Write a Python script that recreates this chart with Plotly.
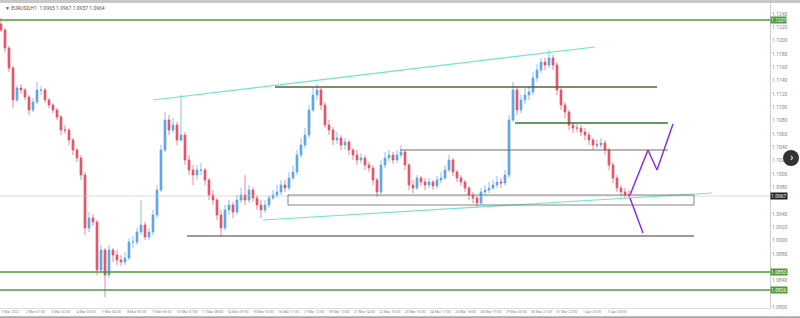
import plotly.graph_objects as go

# ---------------- data ----------------
first_open = 1.12250
close = [
1.12160, 1.11890, 1.11590, 1.11110, 1.11290, 1.11260, 1.11155, 1.10960, 1.11080, 1.11260,
1.11260, 1.11110, 1.11035, 1.10960, 1.10855, 1.10660, 1.10660, 1.10510, 1.10360, 1.10240,
1.09985, 1.09190, 1.09340, 1.09280, 1.08560, 1.08860, 1.08485, 1.08860, 1.08785, 1.08710,
1.08680, 1.08740, 1.08980, 1.08980, 1.09130, 1.09235, 1.09055, 1.09130, 1.09385, 1.09760,
1.10360, 1.10810, 1.10660, 1.10735, 1.10510, 1.10585, 1.10210, 1.10060, 1.09985, 1.10060,
1.10060, 1.09910, 1.09685, 1.09610, 1.09385, 1.09190, 1.09460, 1.09535, 1.09430, 1.09610,
1.09685, 1.09610, 1.09760, 1.09640, 1.09535, 1.09460, 1.09535, 1.09640, 1.09685, 1.09730,
1.09835, 1.09790, 1.09940, 1.10030, 1.10285, 1.10435, 1.10585, 1.10960, 1.11185, 1.11260,
1.11035, 1.10735, 1.10660, 1.10510, 1.10540, 1.10435, 1.10480, 1.10360, 1.10285, 1.10210,
1.10240, 1.10135, 1.10090, 1.09910, 1.09730, 1.10135, 1.10240, 1.10285, 1.10210, 1.10285,
1.10330, 1.10135, 1.09835, 1.09790, 1.09940, 1.09880, 1.09835, 1.09880, 1.09820, 1.09910,
1.09940, 1.10060, 1.10210, 1.10030, 1.09940, 1.09880, 1.09790, 1.09685, 1.09640, 1.09565,
1.09730, 1.09760, 1.09790, 1.09835, 1.09880, 1.09865, 1.09985, 1.10810, 1.11260, 1.10960,
1.11110, 1.11185, 1.11230, 1.11440, 1.11560, 1.11680, 1.11635, 1.11740, 1.11635, 1.11260,
1.11035, 1.10930, 1.10735, 1.10690, 1.10690, 1.10630, 1.10585, 1.10510, 1.10435, 1.10435,
1.10465, 1.10360, 1.10135, 1.09940, 1.09790, 1.09730, 1.09685, 1.09670]

high = [
1.12340, 1.12190, 1.11920, 1.11620, 1.11335, 1.11350, 1.11290, 1.11185, 1.11140, 1.11380,
1.11320, 1.11290, 1.11140, 1.11065, 1.10990, 1.10885, 1.10735, 1.10690, 1.10540, 1.10390,
1.10285, 1.10030, 1.09430, 1.09400, 1.09310, 1.08935, 1.08890, 1.08935, 1.08890, 1.08860,
1.08785, 1.08830, 1.09040, 1.09070, 1.09190, 1.09610, 1.09280, 1.09190, 1.09460, 1.09835,
1.10435, 1.10930, 1.10885, 1.10840, 1.10780, 1.11185, 1.10630, 1.10285, 1.10135, 1.10135,
1.10165, 1.10090, 1.09940, 1.09760, 1.09640, 1.09460, 1.09535, 1.09610, 1.09580, 1.09685,
1.09790, 1.09985, 1.09835, 1.09805, 1.09685, 1.09610, 1.09610, 1.09685, 1.09760, 1.09835,
1.09910, 1.09910, 1.10030, 1.10135, 1.10360, 1.10540, 1.10690, 1.11035, 1.11290, 1.11350,
1.11290, 1.11080, 1.10810, 1.10705, 1.10630, 1.10585, 1.10540, 1.10510, 1.10390, 1.10360,
1.10315, 1.10285, 1.10180, 1.10135, 1.09940, 1.10210, 1.10330, 1.10360, 1.10330, 1.10360,
1.10435, 1.10360, 1.10165, 1.09910, 1.09985, 1.09970, 1.09940, 1.09940, 1.09910, 1.09970,
1.10030, 1.10135, 1.10285, 1.10240, 1.10060, 1.09985, 1.09910, 1.09820, 1.09730, 1.09670,
1.09790, 1.09835, 1.09880, 1.09910, 1.09970, 1.09940, 1.10060, 1.10885, 1.11380, 1.11290,
1.11185, 1.11290, 1.11320, 1.11530, 1.11650, 1.11740, 1.11740, 1.11860, 1.11785, 1.11680,
1.11290, 1.11080, 1.10960, 1.10780, 1.10750, 1.10735, 1.10690, 1.10630, 1.10540, 1.10510,
1.10540, 1.10510, 1.10390, 1.10180, 1.09985, 1.09835, 1.09790, 1.09760]

low = [
1.12130, 1.11830, 1.11530, 1.10990, 1.11080, 1.11200, 1.11110, 1.10885, 1.10930, 1.11050,
1.11185, 1.11065, 1.10990, 1.10915, 1.10810, 1.10585, 1.10600, 1.10435, 1.10285, 1.10180,
1.09910, 1.09085, 1.09130, 1.09220, 1.08485, 1.08530, 1.08155, 1.08440, 1.08680, 1.08635,
1.08620, 1.08635, 1.08710, 1.08890, 1.08935, 1.09085, 1.09010, 1.09010, 1.09085, 1.09340,
1.09730, 1.10330, 1.10585, 1.10615, 1.10435, 1.10480, 1.10135, 1.09985, 1.09835, 1.09910,
1.09985, 1.09835, 1.09610, 1.09535, 1.09310, 1.09070, 1.09160, 1.09385, 1.09340, 1.09385,
1.09565, 1.09535, 1.09565, 1.09580, 1.09460, 1.09340, 1.09415, 1.09490, 1.09610, 1.09640,
1.09685, 1.09730, 1.09760, 1.09910, 1.09985, 1.10240, 1.10390, 1.10540, 1.10930, 1.11110,
1.10960, 1.10690, 1.10585, 1.10435, 1.10450, 1.10360, 1.10360, 1.10285, 1.10210, 1.10135,
1.10165, 1.10060, 1.10030, 1.09835, 1.09655, 1.09700, 1.10090, 1.10180, 1.10150, 1.10165,
1.10240, 1.10060, 1.09760, 1.09715, 1.09760, 1.09820, 1.09760, 1.09790, 1.09760, 1.09775,
1.09865, 1.09910, 1.10030, 1.09970, 1.09880, 1.09820, 1.09730, 1.09610, 1.09565, 1.09490,
1.09535, 1.09685, 1.09715, 1.09760, 1.09790, 1.09790, 1.09820, 1.09940, 1.10780, 1.10885,
1.10915, 1.11050, 1.11110, 1.11185, 1.11380, 1.11515, 1.11560, 1.11590, 1.11560, 1.11185,
1.10960, 1.10840, 1.10660, 1.10615, 1.10630, 1.10570, 1.10510, 1.10435, 1.10360, 1.10390,
1.10390, 1.10285, 1.10060, 1.09865, 1.09730, 1.09670, 1.09640, 1.09640]

open_ = [first_open] + close[:-1]
bars = list(range(len(close)))

date_labels = ["1 Mar 2022", "2 Mar 01:00", "3 Mar 02:00", "4 Mar 03:00", "7 Mar 04:00",
               "8 Mar 05:00", "9 Mar 06:00", "10 Mar 07:00", "11 Mar 08:00", "14 Mar 09:00",
               "15 Mar 10:00", "16 Mar 11:00", "17 Mar 12:00", "18 Mar 13:00", "21 Mar 14:00",
               "22 Mar 15:00", "23 Mar 16:00", "24 Mar 17:00", "25 Mar 18:00", "28 Mar 19:00",
               "29 Mar 20:00", "30 Mar 21:00", "31 Mar 22:00", "1 Apr 23:00", "5 Apr 00:00"]
date_ticks = [2.3 + 6.325 * k for k in range(len(date_labels))]

# key levels drawn on the chart (price)
green_levels = [1.12310, 1.08530, 1.08260]
symbol_header = "▼ EURUSD,H1  1.0965 1.0967 1.0957 1.0964"

# price scale labels (those hidden behind the highlighted level tags are skipped)
price_ticks = [round(1.0800 + 0.002 * k, 4) for k in range(23)]
price_ticks = [t for t in price_ticks
               if all(abs(t - lv) > 0.0008 for lv in green_levels + [close[-1]])]

# ---------------- figure ----------------
fig = go.Figure()
fig.add_trace(go.Candlestick(
    x=bars, open=open_, high=high, low=low, close=close,
    increasing=dict(line=dict(color="#5ea6ec", width=0.7), fillcolor="#5ea6ec"),
    decreasing=dict(line=dict(color="#e2566a", width=0.7), fillcolor="#e2566a"),
    whiskerwidth=0, showlegend=False, hoverinfo="skip"))

shapes = []
def seg(x0, y0, x1, y1, color, width=1.0):
    shapes.append(dict(type="line", xref="x", yref="y", x0=x0, y0=y0, x1=x1, y1=y1,
                       line=dict(color=color, width=width)))

# full-width green levels
for lv in green_levels:
    shapes.append(dict(type="line", xref="paper", yref="y", x0=0, x1=1, y0=lv, y1=lv,
                       line=dict(color="#4e9a3a", width=1.5)))
# current price line
shapes.append(dict(type="line", xref="paper", yref="y", x0=0, x1=1, y0=close[-1], y1=close[-1],
                   line=dict(color="#c4c4c4", width=0.6)))
# trend channel
seg(38.0, 1.11110, 148.5, 1.11905, "#6fe3cf", 1.2)
seg(65.5, 1.09310, 177.75, 1.09715, "#6fe3cf", 1.2)
# horizontal levels
seg(68.5, 1.11305, 164.0, 1.11305, "#5e5e36", 1.5)
seg(128.5, 1.10765, 166.75, 1.10765, "#2f7a2f", 1.5)
seg(99.75, 1.10360, 166.75, 1.10360, "#6e6e5a", 1.0)
seg(46.5, 1.09070, 173.25, 1.09070, "#7a7a7a", 1.5)
# support box
shapes.append(dict(type="rect", xref="x", yref="y", x0=71.75, x1=173.25, y0=1.09535, y1=1.09685,
                   line=dict(color="#666666", width=0.8)))
# projection arrows
seg(157.25, 1.09685, 161.75, 1.10360, "#8b2fe0", 1.5)
seg(161.75, 1.10360, 164.0, 1.10060, "#8b2fe0", 1.5)
seg(164.0, 1.10060, 168.0, 1.10750, "#8b2fe0", 1.5)
seg(157.25, 1.09640, 160.5, 1.09115, "#8b2fe0", 1.5)

# top gray strip, bottom strip, nav button
shapes.append(dict(type="rect", xref="paper", yref="paper", x0=-0.01, x1=1.05, y0=1.0, y1=1.012,
                   line=dict(width=0), fillcolor="#c8c8c8", layer="above"))
shapes.append(dict(type="rect", xref="paper", yref="paper", x0=-0.01, x1=1.05, y0=-0.04, y1=-0.027,
                   line=dict(width=0), fillcolor="#a8a8a8"))
shapes.append(dict(type="circle", xref="paper", yref="paper", x0=1.0169, x1=1.0377, y0=0.4656, y1=0.518,
                   line=dict(width=0), fillcolor="#333333"))

annotations = [
    dict(text=symbol_header, xref="paper", yref="paper", x=0.004, y=0.985, xanchor="left",
         yanchor="middle", showarrow=False, font=dict(size=5, color="#555555")),
    dict(text="›", xref="paper", yref="paper", x=1.0273, y=0.492, showarrow=False,
         font=dict(size=11, color="white"), xanchor="center", yanchor="middle"),
]
for lv in green_levels:
    annotations.append(dict(text=f"{lv:.4f}", xref="paper", yref="y", x=1.0, y=lv, xanchor="left",
                            yanchor="middle", showarrow=False, bgcolor="#4e9a3a",
                            font=dict(size=5, color="white"), borderpad=0))
annotations.append(dict(text=f"{close[-1]:.4f}", xref="paper", yref="y", x=1.0, y=close[-1],
                        xanchor="left", yanchor="middle", showarrow=False, bgcolor="#222222",
                        font=dict(size=5, color="white"), borderpad=0))

fig.update_layout(
    width=800, height=318, margin=dict(l=0, r=30, t=3, b=10),
    paper_bgcolor="white", plot_bgcolor="white",
    shapes=shapes, annotations=annotations,
    font=dict(family="Roboto, sans-serif"),
    xaxis=dict(range=[-0.25, 192.25], rangeslider=dict(visible=False), showgrid=False,
               zeroline=False, tickvals=date_ticks, ticktext=date_labels, ticks="",
               tickangle=0, tickfont=dict(size=3.6, color="#8a8a8a"), showline=True,
               linecolor="#dddddd", mirror=False, fixedrange=True),
    yaxis=dict(range=[1.07990, 1.12565], side="right", showgrid=False, zeroline=False,
               tickvals=price_ticks, tickformat=".4f", ticks="",
               tickfont=dict(size=5, color="#8a8a8a"), showline=True, linecolor="#cccccc",
               fixedrange=True),
)

fig.write_html("out.html")
